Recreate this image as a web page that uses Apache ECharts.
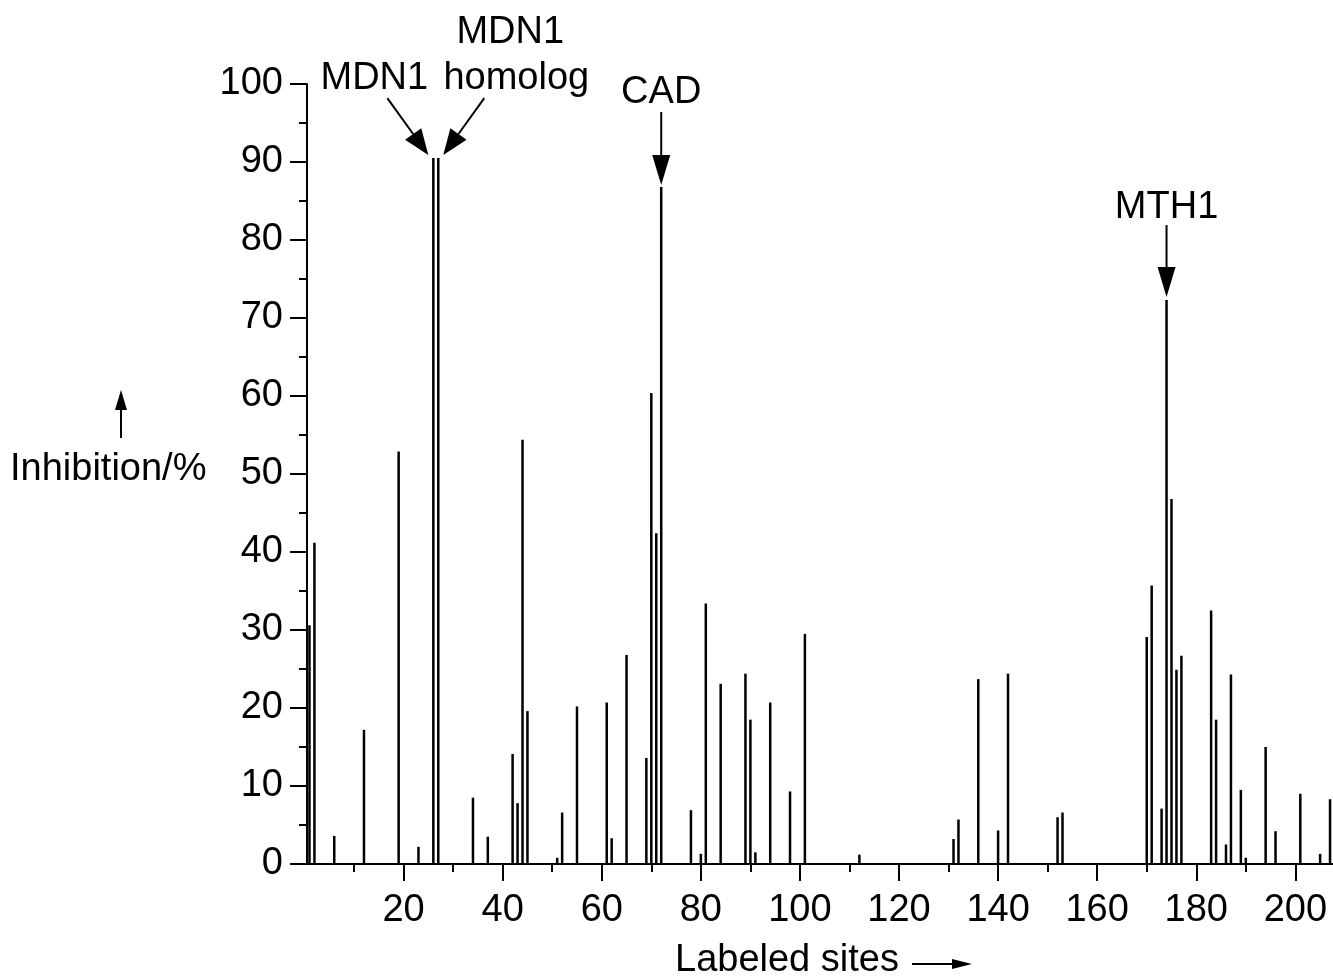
<!DOCTYPE html>
<html>
<head>
<meta charset="utf-8">
<title>Inhibition by labeled site</title>
<script src="https://cdn.jsdelivr.net/npm/echarts@6/dist/echarts.min.js"></script>
<style>
  html, body { margin: 0; padding: 0; background: #fff; }
  #chart { width: 1333px; height: 977px; }
</style>
</head>
<body>
<div id="chart"></div>
<script>
// labeled site numbers and inhibition (%)
var sites = [1, 2, 6, 12, 19, 23, 26, 27, 34, 37,
  42, 43, 44, 45, 51, 52, 55, 61, 62, 65,
  69, 70, 71, 72, 78, 80, 81, 84, 89, 90,
  91, 94, 98, 101, 112, 131, 132, 136, 140, 142,
  152, 153, 170, 171, 173, 174, 175, 176, 177, 183,
  184, 186, 187, 189, 190, 194, 196, 201, 205, 207];
var inhibition = [30.6, 41.2, 3.6, 17.2, 52.9, 2.2, 90.5, 90.5, 8.5, 3.5,
  14.1, 7.8, 54.4, 19.6, 0.8, 6.6, 20.2, 20.7, 3.3, 26.8,
  13.6, 60.4, 42.4, 86.8, 6.9, 1.3, 33.4, 23.1, 24.4, 18.5,
  1.5, 20.7, 9.3, 29.5, 1.2, 3.2, 5.7, 23.7, 4.3, 24.4,
  6.0, 6.6, 29.1, 35.7, 7.1, 72.3, 46.8, 24.9, 26.7, 32.5,
  18.5, 2.5, 24.3, 9.5, 0.8, 15.0, 4.2, 9.0, 1.3, 8.3];
// x axis labels / ticks
var xMajor = [20, 40, 60, 80, 100, 120, 140, 160, 180, 200];
var xMinor = [10, 30, 50, 70, 90, 110, 130, 150, 170, 190];

(function() {
  var FONT = '"Liberation Sans", Arial, Helvetica, sans-serif';
  var FS = 38;
  var myChart = echarts.init(document.getElementById('chart'));

  var data = [];
  for (var i = 0; i < sites.length; i++) {
    data.push([sites[i], inhibition[i]]);
  }

  var option = {
    animation: false,
    backgroundColor: '#fff',
    grid: {
      left: 307,
      right: 0,
      top: 84,
      bottom: 113
    },
    xAxis: [
      {
        type: 'value',
        min: 0.5,
        max: 207.6,
        position: 'bottom',
        axisLine: { show: true, onZero: false, lineStyle: { color: '#000', width: 2 } },
        axisTick: {
          show: true,
          customValues: xMajor,
          length: 17,
          lineStyle: { color: '#000', width: 2 }
        },
        axisLabel: {
          customValues: xMajor,
          color: '#000',
          fontSize: FS,
          fontFamily: FONT,
          margin: 28
        },
        splitLine: { show: false }
      },
      {
        // minor ticks only
        type: 'value',
        min: 0.5,
        max: 207.6,
        position: 'bottom',
        axisLine: { show: false },
        axisTick: {
          show: true,
          customValues: xMinor,
          length: 8,
          lineStyle: { color: '#000', width: 2 }
        },
        axisLabel: { show: false },
        splitLine: { show: false }
      }
    ],
    yAxis: {
      type: 'value',
      min: 0,
      max: 100,
      interval: 10,
      axisLine: { show: true, lineStyle: { color: '#000', width: 2 } },
      axisTick: {
        show: true,
        length: 17,
        lineStyle: { color: '#000', width: 2 }
      },
      minorTick: {
        show: true,
        splitNumber: 2,
        length: 8,
        lineStyle: { color: '#000', width: 2 }
      },
      axisLabel: {
        color: '#000',
        fontSize: FS,
        fontFamily: FONT,
        margin: 24
      },
      splitLine: { show: false },
      minorSplitLine: { show: false }
    },
    series: [
      {
        name: 'Inhibition',
        type: 'bar',
        xAxisIndex: 0,
        yAxisIndex: 0,
        barWidth: 2.5,
        itemStyle: { color: '#000' },
        data: data
      }
    ]
  };
  myChart.setOption(option);

  // 箭头：线 + 三角形
  function arrow(x1, y1, x2, y2, headLen, headW) {
    var dx = x2 - x1, dy = y2 - y1;
    var len = Math.sqrt(dx * dx + dy * dy);
    var ux = dx / len, uy = dy / len;
    var bx = x2 - ux * headLen, by = y2 - uy * headLen;
    var px = -uy * headW / 2, py = ux * headW / 2;
    return [
      {
        type: 'line',
        shape: { x1: x1, y1: y1, x2: bx, y2: by },
        style: { stroke: '#000', lineWidth: 2 }
      },
      {
        type: 'polygon',
        shape: { points: [[x2, y2], [bx + px, by + py], [bx - px, by - py]] },
        style: { fill: '#000' }
      }
    ];
  }
  function label(text, x, y, align) {
    return {
      type: 'text',
      x: x,
      y: y,
      style: {
        text: text,
        fill: '#000',
        font: FS + 'px ' + FONT,
        align: align || 'center',
        verticalAlign: 'middle'
      }
    };
  }
  function top(site) {
    var idx = sites.indexOf(site);
    return myChart.convertToPixel({ xAxisIndex: 0, yAxisIndex: 0 }, [site, inhibition[idx]]);
  }

  var g = [];
  var p26 = top(26), p27 = top(27), p72 = top(72), p174 = top(174);

  // MDN1 / MDN1 homolog
  g.push(label('MDN1', p26[0] - 59, p26[1] - 80));
  g = g.concat(arrow(p26[0] - 46, p26[1] - 60, p26[0] - 5, p26[1] - 3, 26, 20));
  g.push(label('MDN1', p27[0] + 72, p27[1] - 126));
  g.push(label('homolog', p27[0] + 78, p27[1] - 80));
  g = g.concat(arrow(p27[0] + 46, p27[1] - 60, p27[0] + 5, p27[1] - 3, 26, 20));

  // CAD
  g.push(label('CAD', p72[0], p72[1] - 94));
  g = g.concat(arrow(p72[0], p72[1] - 75, p72[0], p72[1] - 2, 30, 18));

  // MTH1
  g.push(label('MTH1', p174[0], p174[1] - 93));
  g = g.concat(arrow(p174[0], p174[1] - 75, p174[0], p174[1] - 3, 30, 18));

  // axis names with arrows
  var y50 = myChart.convertToPixel({ yAxisIndex: 0 }, 50);
  g.push(label('Inhibition/%', 10, y50 - 4, 'left'));
  g = g.concat(arrow(121, y50 - 36, 121, y50 - 84, 20, 12));
  g.push(label('Labeled sites', 675, 961, 'left'));
  g = g.concat(arrow(912, 964, 972, 964, 20, 10));

  myChart.setOption({ graphic: g });

  window.addEventListener('resize', function() {
    myChart.resize();
  });
})();
</script>
</body>
</html>
